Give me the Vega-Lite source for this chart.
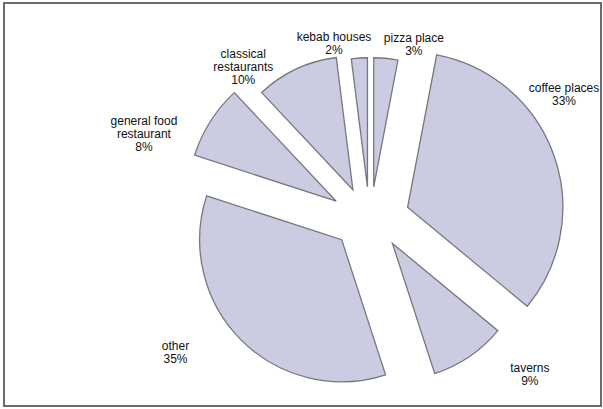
{
  "$schema": "https://vega.github.io/schema/vega-lite/v6.json",
  "autosize": "none",
  "padding": {"left": 4, "top": 3, "right": 2, "bottom": 2},
  "width": 597,
  "height": 403,
  "background": "white",
  "view": {"stroke": "#6b6b6b", "strokeWidth": 2},
  "config": {
    "view": {"stroke": "#6b6b6b", "strokeWidth": 2},
    "text": {"font": "Liberation Sans"}
  },
  "data": {
    "values": [
      {"order": 1, "category": "pizza place", "pct": 3, "label": "pizza place\n3%"},
      {"order": 2, "category": "coffee places", "pct": 33, "label": "coffee places\n33%"},
      {"order": 3, "category": "taverns", "pct": 9, "label": "taverns\n9%"},
      {"order": 4, "category": "other", "pct": 35, "label": "other\n35%"},
      {"order": 5, "category": "general food restaurant", "pct": 8, "label": "general food\nrestaurant\n8%"},
      {"order": 6, "category": "classical restaurants", "pct": 10, "label": "classical\nrestaurants\n10%"},
      {"order": 7, "category": "kebab houses", "pct": 2, "label": "kebab houses\n2%"}
    ]
  },
  "encoding": {
    "theta": {"field": "pct", "type": "quantitative", "stack": true},
    "order": {"field": "order", "type": "quantitative", "sort": "ascending"}
  },
  "layer": [
    {
      "mark": {
        "type": "arc",
        "fill": "#cbcce2",
        "stroke": "#77777f",
        "strokeWidth": 1.3,
        "radius": {"expr": "160 * 129 / sqrt(pow(129 * sin(scale('theta', (datum.pct_start + datum.pct_end) / 2)), 2) + pow(160 * cos(scale('theta', (datum.pct_start + datum.pct_end) / 2)), 2))"},
        "x": {"expr": "width * 0.613 + 40 * sin(scale('theta', (datum.pct_start + datum.pct_end) / 2))"},
        "y": {"expr": "height * 0.533 - 31 * cos(scale('theta', (datum.pct_start + datum.pct_end) / 2))"}
      }
    },
    {
      "mark": {
        "type": "text",
        "radius": 0,
        "fontSize": 12,
        "lineBreak": "\n",
        "lineHeight": 13,
        "align": "center",
        "baseline": "middle",
        "color": "#111111",
        "x": {"expr": "min(width - 37, width * 0.613 + 255 * sin(scale('theta', (datum.pct_start + datum.pct_end) / 2)) + 20 * (sin(scale('theta', (datum.pct_start + datum.pct_end) / 2)) >= 0 ? 1 : -1) * abs(cos(scale('theta', (datum.pct_start + datum.pct_end) / 2))))"},
        "y": {"expr": "height * 0.533 - 181 * cos(scale('theta', (datum.pct_start + datum.pct_end) / 2)) - 1.3 * max(0, width * 0.613 + 255 * sin(scale('theta', (datum.pct_start + datum.pct_end) / 2)) + 20 * (sin(scale('theta', (datum.pct_start + datum.pct_end) / 2)) >= 0 ? 1 : -1) * abs(cos(scale('theta', (datum.pct_start + datum.pct_end) / 2))) - (width - 37))"}
      },
      "encoding": {
        "text": {"field": "label", "type": "nominal"}
      }
    }
  ]
}
